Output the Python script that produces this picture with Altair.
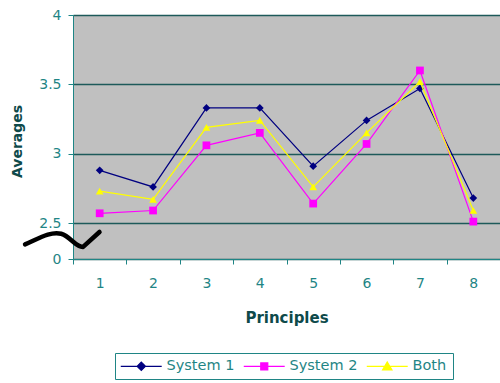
import altair as alt
import pandas as pd

principles = [1, 2, 3, 4, 5, 6, 7, 8]
system1 = [2.88, 2.76, 3.33, 3.33, 2.91, 3.24, 3.47, 2.68]
system2 = [2.57, 2.59, 3.06, 3.15, 2.64, 3.07, 3.60, 2.51]
both = [2.73, 2.67, 3.19, 3.24, 2.76, 3.15, 3.52, 2.59]
series_names = ["System 1", "System 2", "Both"]
colors = ["#000080", "#FF00FF", "#FFFF00"]
shapes = ["diamond", "square", "triangle-up"]
y_ticks = [0, 2.5, 3, 3.5, 4]
break_marker = ["axis break"]

# legend symbols: short line with the series marker in the middle
legend_paths = [
    "M-2.14,0H9.56M2.52,0L3.72,-1.2L4.92,0L3.72,1.2Z",
    "M-2.14,0H9.56M2.72,-1H4.72V1H2.72Z",
    "M-2.14,0H9.56M3.72,-1.25L5.06,1L2.38,1Z",
]
# axis-break squiggle symbol
break_path = "M-1.04,0.12C-0.7,-0.02 -0.35,-0.25 -0.05,-0.17C0.2,-0.1 0.35,0.2 0.55,0.19L1.0,-0.22"

rows = []
for name, vals in zip(series_names, [system1, system2, both]):
    for p, v in zip(principles, vals):
        rows.append({"Principle": str(p), "Average": v, "Series": name})
df = pd.DataFrame(rows)

W, H = 427, 244
TEAL = "#1f8585"
GRID = "#1d5a5a"
TITLE = "#0e4a4a"

x_enc = alt.X(
    "Principle:O",
    scale=alt.Scale(type="band", paddingInner=0, paddingOuter=0),
    axis=alt.Axis(
        title="Principles", labelAngle=0, tickBand="extent", tickSize=5,
        labelPadding=12, labelFont="DejaVu Sans", labelFontSize=14,
        labelColor=TEAL, domainColor=TEAL, tickColor=TEAL, grid=False,
        titleFont="DejaVu Sans", titleFontWeight="bold", titleFontSize=15,
        titleColor=TITLE, titleY=58, titleBaseline="middle",
    ),
)
y_enc = alt.Y(
    "Average:Q",
    scale=alt.Scale(domain=[0, 2.5, 4], range=[H, 208, 0]),
    axis=alt.Axis(
        title="Averages", values=y_ticks, labelExpr="toString(datum.value)",
        grid=True, gridColor=GRID, gridWidth=1.5, tickSize=5, labelPadding=7,
        labelFont="DejaVu Sans", labelFontSize=14, labelColor=TEAL,
        domainColor=TEAL, tickColor=TEAL,
        titleFont="DejaVu Sans", titleFontWeight="bold", titleFontSize=14,
        titleColor=TITLE, titleX=-56, titleY=126, titleAngle=-90,
        titleAlign="center", titleBaseline="middle",
    ),
)

layers = []
for name, col, shp in zip(series_names, colors, shapes):
    base = alt.Chart(df).transform_filter(alt.datum.Series == name)
    layers.append(base.mark_line(color=col, strokeWidth=1.2).encode(x=x_enc, y=y_enc))
    layers.append(
        base.mark_point(shape=shp, filled=True, color=col, size=60, opacity=1).encode(x=x_enc, y=y_enc)
    )

legend_layer = alt.Chart(df).mark_point(filled=True, opacity=0, size=49).encode(
    x=x_enc,
    y=y_enc,
    fill=alt.Fill("Series:N", scale=alt.Scale(domain=series_names, range=colors), legend=alt.Legend(title=None)),
    stroke=alt.Stroke("Series:N", scale=alt.Scale(domain=series_names, range=colors), legend=alt.Legend(title=None)),
    shape=alt.Shape("Series:N", scale=alt.Scale(domain=series_names, range=legend_paths), legend=alt.Legend(title=None)),
)

break_layer = alt.Chart(pd.DataFrame({"b": break_marker})).mark_point(
    shape=break_path, filled=False, stroke="black", strokeWidth=4.5,
    size=5329, opacity=1, strokeCap="round", strokeJoin="round",
).encode(x=alt.value(-10), y=alt.value(225))

chart = alt.layer(*layers, legend_layer, break_layer).properties(
    width=W, height=H,
    padding={"left": 73, "top": 15, "right": 0, "bottom": 124},
    autosize=alt.AutoSizeParams(type="none"),
    background="white",
).configure_view(
    fill="#c0c0c0", stroke=None,
).configure_legend(
    orient="none", legendX=42, legendY=338, direction="horizontal",
    strokeColor=TEAL, fillColor="white", padding=6,
    symbolOpacity=1, symbolStrokeWidth=1.2, symbolSize=49,
    labelFont="DejaVu Sans", labelFontSize=14.5, labelColor=TEAL,
    labelOffset=31, columnPadding=6,
)

chart.save("out.html", embed_options={"renderer": "svg", "actions": False})
